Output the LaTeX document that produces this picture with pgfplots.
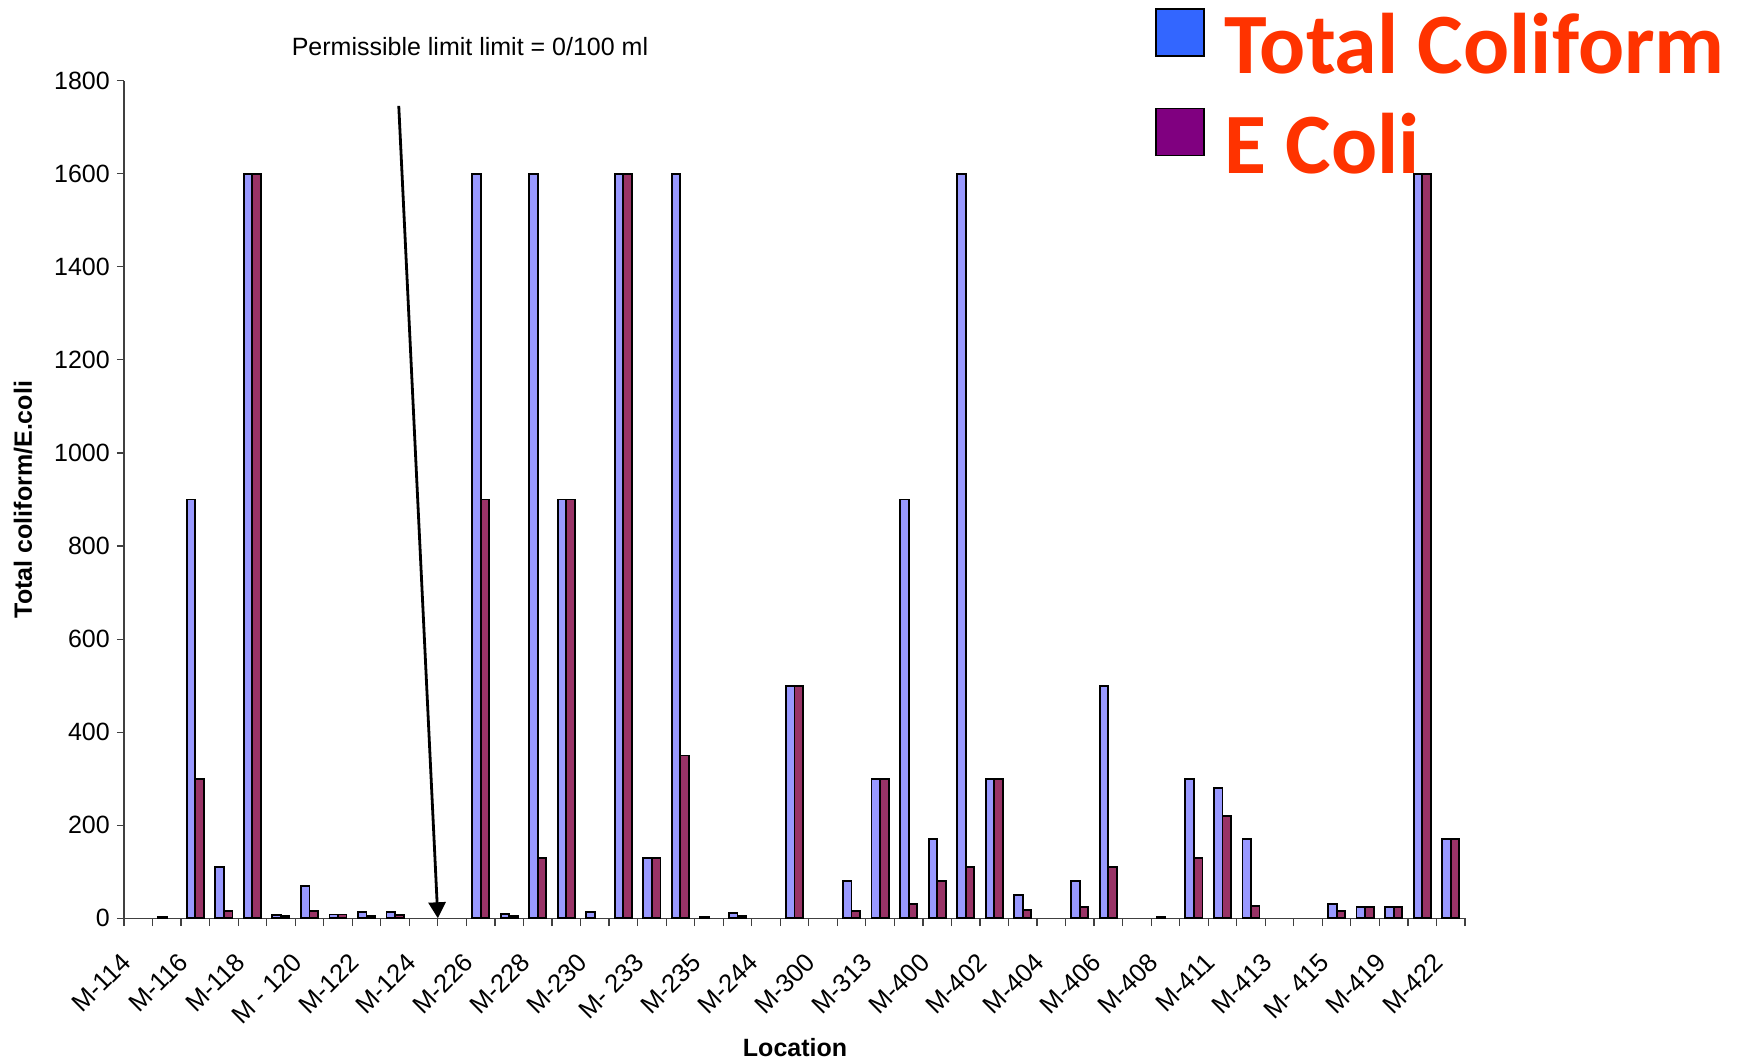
\documentclass[border=0pt]{standalone}
\usepackage{fontspec}
\setmainfont{Liberation Sans}
\newfontfamily\legfont{Carlito}
\usepackage{pgfplots}
\pgfplotsset{compat=1.18}
\usetikzlibrary{arrows.meta}
\definecolor{tcbar}{HTML}{9999FF}
\definecolor{ecbar}{HTML}{993366}
\definecolor{tcleg}{HTML}{3366FF}
\definecolor{ecleg}{HTML}{800080}
\definecolor{legred}{HTML}{FF3300}
\definecolor{axgray}{HTML}{404040}
\begin{document}
\begin{tikzpicture}
\path[use as bounding box] (0,0) rectangle (869.5pt,530.5pt);
\begin{axis}[
  at={(62pt,71.35pt)}, anchor=south west,
  scale only axis, width=670.5pt, height=418.8pt,
  xmin=-0.5, xmax=46.5, ymin=0, ymax=1800,
  clip=false,
  axis x line*=bottom, axis y line*=left,
  axis line style={-, axgray, line width=0.6pt},
  tick align=outside,
  major tick length=3.6pt, minor tick length=3.9pt,
  tick style={axgray, line width=0.6pt},
  every major x tick/.append style={draw=none},
  xtick={0,2,...,46},
  minor xtick={-0.5,0.5,...,46.5},
  xticklabels={M-114, M-116, M-118, M - 120, M-122, M-124, M-226, M-228, M-230, M- 233, M-235, M-244, M-300, M-313, M-400, M-402, M-404, M-406, M-408, M-411, M-413, M- 415, M-419, M-422},
  xticklabel style={xshift=-6pt, yshift=-16pt, rotate=45, anchor=east, inner sep=0pt, font=\fontsize{12.8}{15}\selectfont},
  ytick={0,200,...,1800},
  yticklabel style={font=\fontsize{12.5}{15}\selectfont},
  /pgf/number format/assume math mode=true,
  /pgf/number format/1000 sep={},
  xlabel={Location},
  xlabel style={at={(axis description cs:0.5004,-0.1549)}, anchor=center, font=\bfseries\fontsize{12.5}{15}\selectfont},
  ylabel={Total coliform/E.coli},
  ylabel style={at={(axis description cs:-0.0753,0.5)}, anchor=center, font=\bfseries\fontsize{12.5}{15}\selectfont},
  title={Permissible limit limit = 0/100 ml},
  title style={at={(axis description cs:0.258,1.0267)}, anchor=center, font=\fontsize{12.5}{15}\selectfont},
  legend cell align=left,
  legend style={at={(axis description cs:0.7688,1.0868)}, anchor=north west, draw=none, fill=none,
    inner sep=0pt, outer sep=0pt, row sep=7pt,
    font=\legfont\bfseries\fontsize{43}{48}\selectfont, text=legred,
    nodes={inner sep=0pt, text height=30pt, text depth=10pt},
    /tikz/every odd column/.append style={column sep=10pt}},
]
\addplot[ybar, bar width=0.3, bar shift=-0.15, fill=tcbar, draw=black, line width=0.9pt, forget plot] coordinates {
(1,4) (2,900) (3,110) (4,1600) (5,7) (6,70) (7,8) (8,14) (9,14)
(12,1600) (13,9) (14,1600) (15,900) (16,14) (17,1600) (18,130) (19,1600) (20,3) (21,12)
(23,500) (25,80) (26,300) (27,900) (28,170) (29,1600) (30,300) (31,50) (33,80) (34,500)
(36,2) (37,300) (38,280) (39,170) (42,30) (43,24) (44,24) (45,1600) (46,170)
};
\addplot[ybar, bar width=0.3, bar shift=0.15, fill=ecbar, draw=black, line width=0.9pt, forget plot] coordinates {
(2,300) (3,15) (4,1600) (5,5) (6,15) (7,8) (8,5) (9,7)
(12,900) (13,5) (14,130) (15,900) (17,1600) (18,130) (19,350) (21,5)
(23,500) (25,15) (26,300) (27,30) (28,80) (29,110) (30,300) (31,17) (33,25) (34,110)
(37,130) (38,220) (39,27) (42,16) (43,24) (44,24) (45,1600) (46,170)
};
\addlegendimage{legend image code/.code={\draw[fill=tcleg, draw=black, line width=0.8pt] (0pt,-1pt) rectangle (24pt,22.5pt);}}
\addlegendentry{Total Coliform}
\addlegendimage{legend image code/.code={\draw[fill=ecleg, draw=black, line width=0.8pt] (0pt,-1pt) rectangle (24pt,22.5pt);}}
\addlegendentry{E Coli}
\draw[black, line width=1.4pt, -{Triangle[width=8.5pt,length=8pt]}] (axis cs:9.13,1746) -- (axis cs:10.5,0);
\end{axis}
\end{tikzpicture}
\end{document}
